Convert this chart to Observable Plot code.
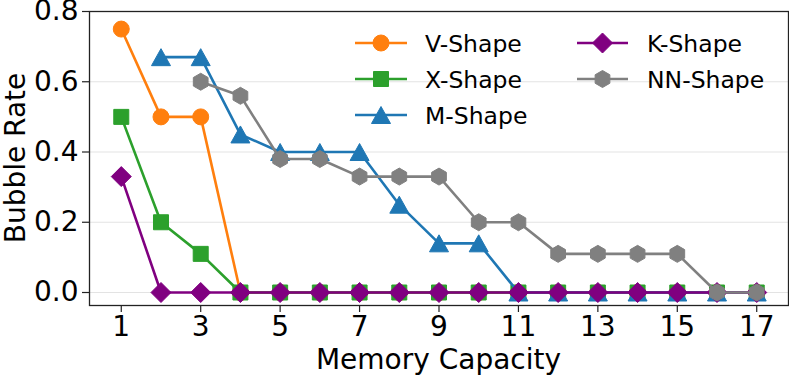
<!DOCTYPE html>
<html>
<head>
<meta charset="utf-8">
<script src="https://cdn.jsdelivr.net/npm/d3@7"></script>
<script src="https://cdn.jsdelivr.net/npm/@observablehq/plot@0.6"></script>
<style>
html, body { margin: 0; padding: 0; background: #fff; }
#chart { position: relative; width: 789px; height: 377px; }
</style>
</head>
<body>
<div id="chart"></div>
<script>
// ---- data ----
const capacity = [1, 2, 3, 4, 5, 6, 7, 8, 9, 10, 11, 12, 13, 14, 15, 16, 17];
const vShape  = [0.75, 0.5, 0.5, 0, 0, 0, 0, 0, 0, 0, 0, 0, 0, 0, 0, 0, 0];
const xShape  = [0.5, 0.2, 0.11, 0, 0, 0, 0, 0, 0, 0, 0, 0, 0, 0, 0, 0, 0];
const mShape  = [null, 0.67, 0.67, 0.45, 0.4, 0.4, 0.4, 0.25, 0.14, 0.14, 0, 0, 0, 0, 0, 0, 0];
const kShape  = [0.33, 0, 0, 0, 0, 0, 0, 0, 0, 0, 0, 0, 0, 0, 0, 0, 0];
const nnShape = [null, null, 0.6, 0.56, 0.38, 0.38, 0.33, 0.33, 0.33, 0.2, 0.2, 0.11, 0.11, 0.11, 0.11, 0, 0];
const seriesNames = ["V-Shape", "X-Shape", "M-Shape", "K-Shape", "NN-Shape"];
const seriesValues = [vShape, xShape, mShape, kShape, nnShape];
const seriesColors = ["#ff7f0e", "#2ca02c", "#1f77b4", "#800080", "#808080"];
const xTicks = [1, 3, 5, 7, 9, 11, 13, 15, 17];
const yTicks = [0, 0.2, 0.4, 0.6, 0.8];
const xLabel = "Memory Capacity";
const yLabel = "Bubble Rate";

// ---- marker shapes (matplotlib-like) ----
const circleSym = { draw(c) { c.moveTo(8, 0); c.arc(0, 0, 8, 0, 2 * Math.PI); } };
const squareSym = { draw(c) { c.rect(-7.5, -7.5, 15, 15); } };
const triangleSym = { draw(c) { c.moveTo(0, -8.5); c.lineTo(9.5, 8.5); c.lineTo(-9.5, 8.5); c.closePath(); } };
const diamondSym = { draw(c) { c.moveTo(0, -10); c.lineTo(10, 0); c.lineTo(0, 10); c.lineTo(-10, 0); c.closePath(); } };
const hexagonSym = { draw(c) {
  const R = 8.5;
  for (let k = 0; k < 6; k++) {
    const a = -Math.PI / 2 + k * Math.PI / 3;
    const px = R * Math.cos(a), py = R * Math.sin(a);
    if (k === 0) c.moveTo(px, py); else c.lineTo(px, py);
  }
  c.closePath();
} };
const seriesSymbols = [circleSym, squareSym, triangleSym, diamondSym, hexagonSym];

const series = seriesNames.map((name, i) => ({
  name,
  color: seriesColors[i],
  symbol: seriesSymbols[i],
  rows: capacity.map((x, j) => ({ x, y: seriesValues[i][j] })).filter(d => d.y != null)
}));

const marks = [
  Plot.gridY(yTicks.slice(0, 4), { stroke: "#e3e3e3", strokeOpacity: 1, strokeWidth: 1 }),
  Plot.axisX({ ticks: xTicks, tickSize: 7, tickPadding: 4, fontSize: 28, label: null, stroke: "#222", strokeWidth: 1.2 }),
  Plot.axisY({ ticks: yTicks, tickSize: 7, tickPadding: 4, fontSize: 28, label: null, tickFormat: d => d.toFixed(1), stroke: "#222", strokeWidth: 1.2 })
];
for (const s of series) {
  marks.push(Plot.line(s.rows, { x: "x", y: "y", stroke: s.color, strokeWidth: 2.6 }));
  marks.push(Plot.dot(s.rows, { x: "x", y: "y", symbol: s.symbol, fill: s.color, stroke: s.color, strokeWidth: 1, r: 8 }));
}
marks.push(Plot.frame({ stroke: "#222", strokeWidth: 1.3 }));

const chart = Plot.plot({
  width: 789,
  height: 377,
  marginLeft: 89,
  marginRight: 1,
  marginTop: 11,
  marginBottom: 72,
  style: { fontFamily: "DejaVu Sans", fontSize: "28px", background: "#fff", color: "#000", overflow: "visible" },
  x: { domain: [0.2, 17.8] },
  y: { domain: [-0.037, 0.8] },
  marks
});
document.getElementById("chart").appendChild(chart);

// ---- axis titles & legend ----
const svg = d3.select(chart);
svg.append("text")
  .attr("x", 438.5).attr("y", 369)
  .attr("text-anchor", "middle")
  .attr("font-family", "DejaVu Sans").attr("font-size", 28).attr("fill", "#000")
  .text(xLabel);
svg.append("text")
  .attr("transform", "translate(25,158) rotate(-90)")
  .attr("text-anchor", "middle")
  .attr("font-family", "DejaVu Sans").attr("font-size", 28).attr("fill", "#000")
  .text(yLabel);

const legendPos = [
  { x0: 355, x1: 407, tx: 425, y: 43 },
  { x0: 355, x1: 407, tx: 425, y: 79 },
  { x0: 355, x1: 407, tx: 425, y: 115 },
  { x0: 577, x1: 628, tx: 647, y: 43 },
  { x0: 577, x1: 628, tx: 647, y: 79 }
];
const lg = svg.append("g");
series.forEach((s, i) => {
  const p = legendPos[i];
  lg.append("line").attr("x1", p.x0).attr("x2", p.x1).attr("y1", p.y).attr("y2", p.y)
    .attr("stroke", s.color).attr("stroke-width", 2.6);
  lg.append("path").attr("transform", `translate(${(p.x0 + p.x1) / 2},${p.y})`)
    .attr("d", d3.symbol(s.symbol)())
    .attr("fill", s.color).attr("stroke", s.color).attr("stroke-width", 1);
  lg.append("text").attr("x", p.tx).attr("y", p.y + 8.5)
    .attr("text-anchor", "start")
    .attr("font-family", "DejaVu Sans").attr("font-size", 23.5).attr("fill", "#000")
    .text(s.name);
});
</script>
</body>
</html>
